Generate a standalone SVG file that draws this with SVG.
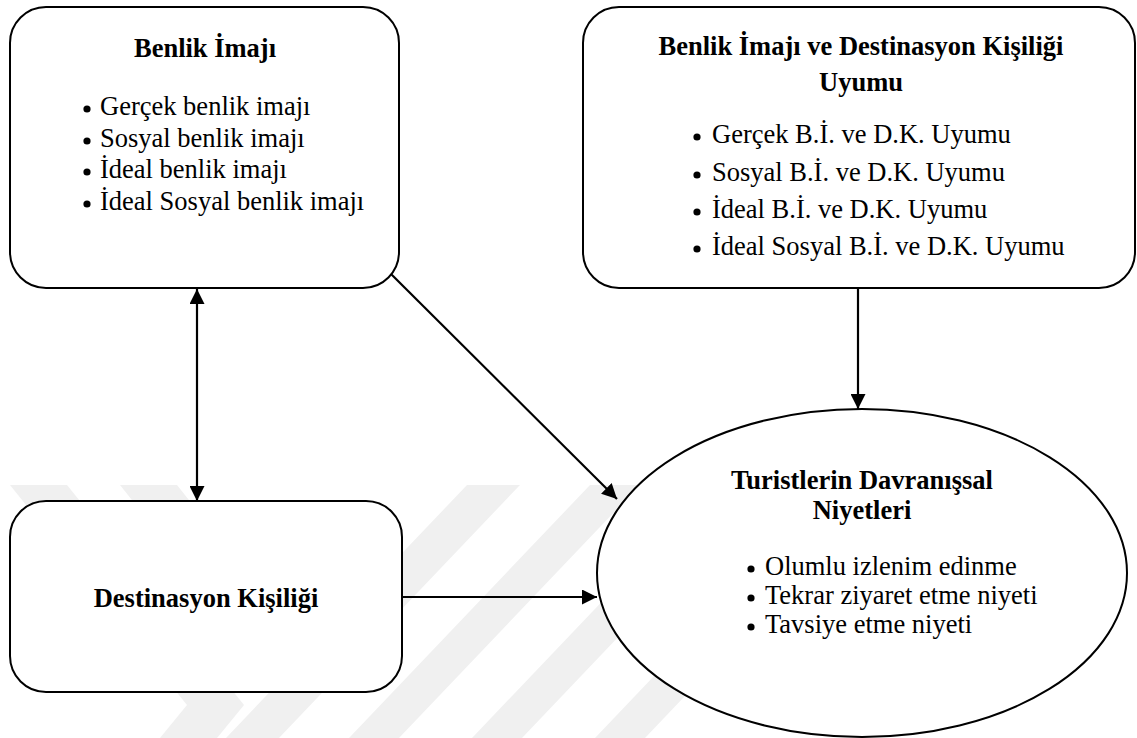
<svg xmlns="http://www.w3.org/2000/svg" width="1137" height="738" viewBox="0 0 1137 738">
  <style>
    .box { fill: #ffffff; stroke: #000000; stroke-width: 2; }
    text { font-family: 'Liberation Serif', 'Times New Roman', Times, serif; font-size: 26.5px; fill: #000000; }
    .title { font-weight: bold; text-anchor: middle; }
    .dot { fill: #000000; }
    .wm { fill: #f0f0f0; }
    .link { fill: none; stroke: #000000; stroke-width: 2.2; }
  </style>
  <defs>
    <marker id="arrow" viewBox="0 0 15 15" refX="15" refY="7.5" markerWidth="15" markerHeight="15" markerUnits="userSpaceOnUse" orient="auto-start-reverse">
      <path d="M0,0 L15,7.5 L0,15 Z" fill="#000000"/>
    </marker>
  </defs>

  <rect width="1137" height="738" fill="#ffffff"/>

  <!-- faint background emblem -->
  <g id="emblem">
    <polygon class="wm" points="10,485 67,485 244,705 217,738 160,738 187,705"/>
    <polygon class="wm" points="120,485 177,485 300,640 243,640"/>
    <polygon class="wm" points="467,485 520,485 279,738 226,738"/>
    <polygon class="wm" points="590,485 640,485 399,738 349,738"/>
    <polygon class="wm" points="713,485 763,485 522,738 472,738"/>
    <polygon class="wm" points="836,485 886,485 645,738 595,738"/>
  </g>

  <g id="benlik-imaji" font-family="Liberation Serif, serif">
    <rect class="box" x="10" y="7" width="389" height="281" rx="36" ry="36"/>
    <text class="title" x="205" y="57">Benlik İmajı</text>
    <circle class="dot" cx="87" cy="109" r="3.6"/>
    <text x="100" y="115">Gerçek benlik imajı</text>
    <circle class="dot" cx="87" cy="141" r="3.6"/>
    <text x="100" y="147">Sosyal benlik imajı</text>
    <circle class="dot" cx="87" cy="172" r="3.6"/>
    <text x="100" y="178">İdeal benlik imajı</text>
    <circle class="dot" cx="87" cy="204" r="3.6"/>
    <text x="100" y="210">İdeal Sosyal benlik imajı</text>
  </g>

  <g id="uyum" font-family="Liberation Serif, serif">
    <rect class="box" x="583" y="7" width="552" height="281" rx="36" ry="36"/>
    <text class="title" x="861" y="55">Benlik İmajı ve Destinasyon Kişiliği</text>
    <text class="title" x="861" y="91">Uyumu</text>
    <circle class="dot" cx="697" cy="137" r="3.6"/>
    <text x="712" y="143">Gerçek B.İ. ve D.K. Uyumu</text>
    <circle class="dot" cx="697" cy="175" r="3.6"/>
    <text x="712" y="181">Sosyal B.İ. ve D.K. Uyumu</text>
    <circle class="dot" cx="697" cy="212" r="3.6"/>
    <text x="712" y="218">İdeal B.İ. ve D.K. Uyumu</text>
    <circle class="dot" cx="697" cy="249" r="3.6"/>
    <text x="712" y="255">İdeal Sosyal B.İ. ve D.K. Uyumu</text>
  </g>

  <g id="destinasyon-kisiligi" font-family="Liberation Serif, serif">
    <rect class="box" x="10" y="501" width="392" height="191" rx="36" ry="36"/>
    <text class="title" x="206" y="607">Destinasyon Kişiliği</text>
  </g>

  <g id="davranissal-niyetler" font-family="Liberation Serif, serif">
    <ellipse class="box" cx="862" cy="573" rx="265" ry="164"/>
    <text class="title" x="862" y="489">Turistlerin Davranışsal</text>
    <text class="title" x="862" y="519">Niyetleri</text>
    <circle class="dot" cx="751" cy="569" r="3.6"/>
    <text x="765" y="575">Olumlu izlenim edinme</text>
    <circle class="dot" cx="751" cy="598" r="3.6"/>
    <text x="765" y="604">Tekrar ziyaret etme niyeti</text>
    <circle class="dot" cx="751" cy="627" r="3.6"/>
    <text x="765" y="633">Tavsiye etme niyeti</text>
  </g>

  <g id="connectors">
    <line class="link" x1="197" y1="289" x2="197" y2="501" marker-start="url(#arrow)" marker-end="url(#arrow)"/>
    <line class="link" x1="391" y1="274" x2="617" y2="499" marker-end="url(#arrow)"/>
    <line class="link" x1="858" y1="288" x2="858" y2="409" marker-end="url(#arrow)"/>
    <line class="link" x1="402" y1="597" x2="597" y2="597" marker-end="url(#arrow)"/>
  </g>
</svg>
